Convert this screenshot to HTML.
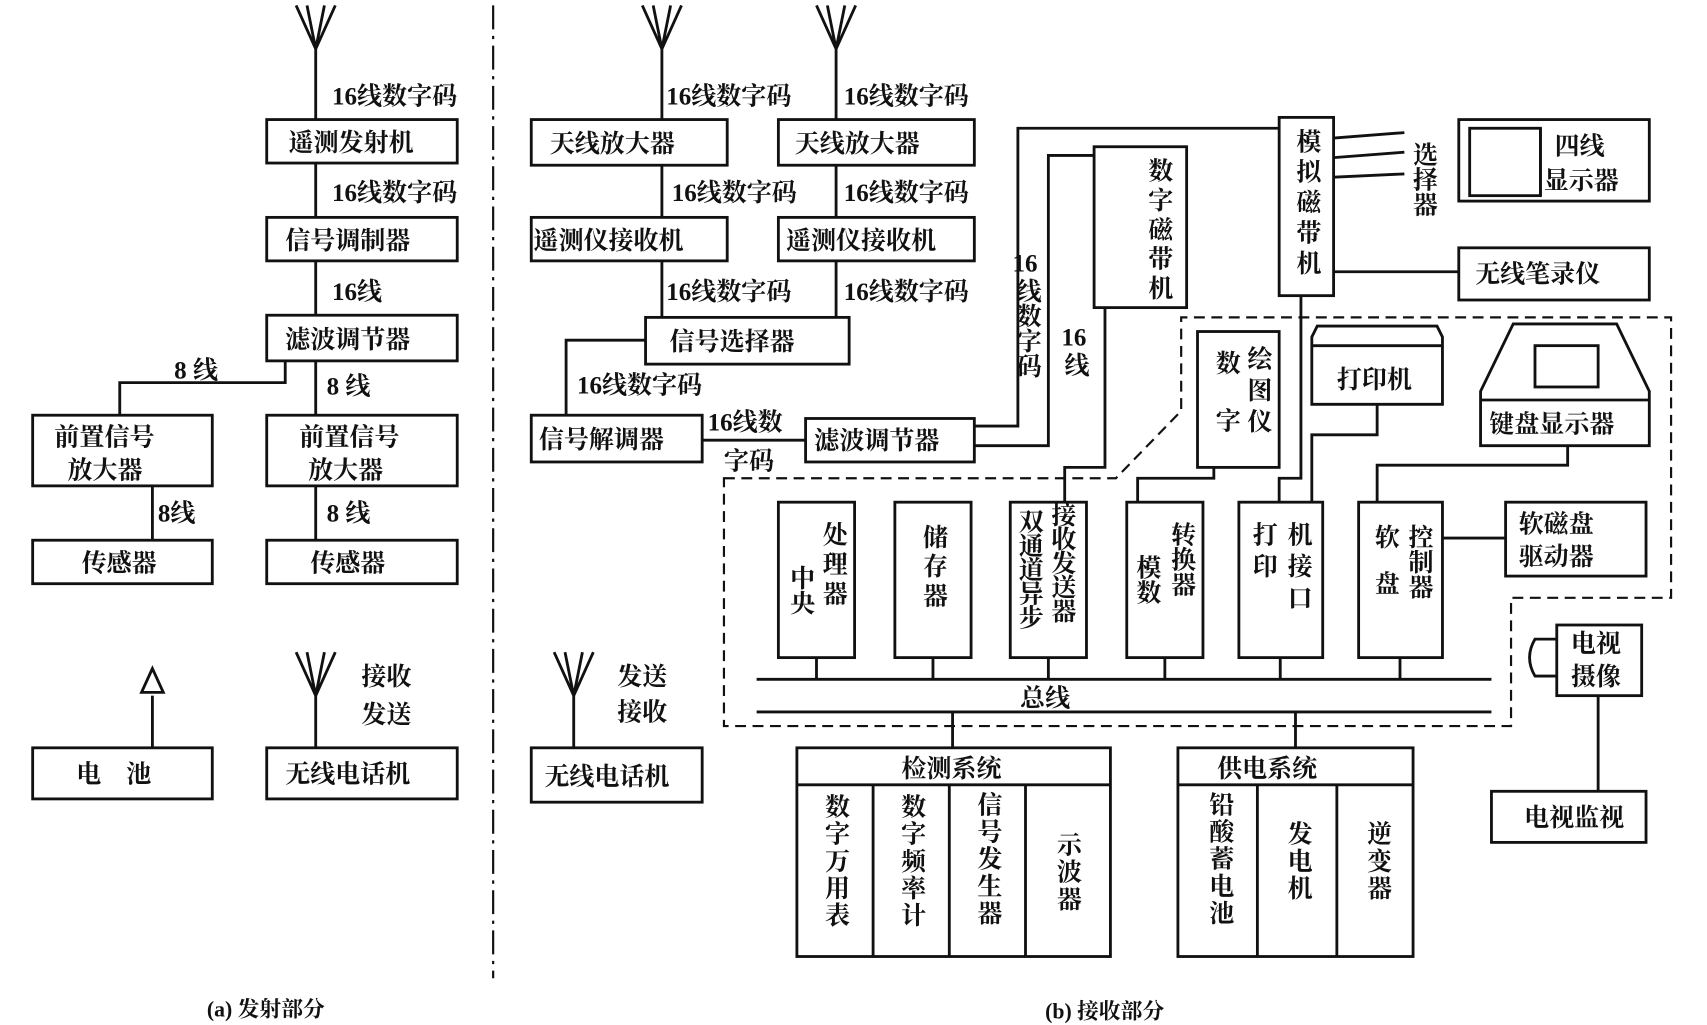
<!DOCTYPE html>
<html><head><meta charset="utf-8"><style>
html,body{margin:0;padding:0;background:#fff;}
svg{display:block;}
text{font-family:"Liberation Serif","Noto Serif CJK SC","Noto Sans CJK SC",serif;font-weight:bold;font-size:23px;fill:#111;}
.v{writing-mode:vertical-rl;}
</style></head><body>
<svg width="1707" height="1025" viewBox="0 0 1568 943" preserveAspectRatio="none" xmlns="http://www.w3.org/2000/svg">
<g stroke="#111" stroke-width="2.6" fill="none">
<path d="M272 5 L290 45 L308 5 M282 5 L290 45 L298 5 M290 45 V110"/>
<path d="M590 5 L608 45 L626 5 M600 5 L608 45 L616 5 M608 45 V110"/>
<path d="M750 5 L768 45 L786 5 M760 5 L768 45 L776 5 M768 45 V110"/>
<path d="M272 600 L290 640 L308 600 M282 600 L290 640 L298 600 M290 640 V688"/>
<path d="M509 600 L527 640 L545 600 M519 600 L527 640 L535 600 M527 640 V688"/>
<rect x="245" y="110" width="175" height="40"/>
<path d="M290 150 V200"/>
<rect x="245" y="200" width="175" height="40"/>
<path d="M290 240 V290"/>
<rect x="245" y="290" width="175" height="42"/>
<path d="M262 332 V352 H110 V382 M290 332 V382"/>
<rect x="30" y="382" width="165" height="65"/>
<rect x="245" y="382" width="175" height="65"/>
<path d="M140 447 V497 M290 447 V497"/>
<rect x="30" y="497" width="165" height="40"/>
<rect x="245" y="497" width="175" height="40"/>
<path d="M140 640 V688"/>
<path d="M140 615 L130 637 L150 637 Z" fill="#fff"/>
<rect x="30" y="688" width="165" height="47"/>
<rect x="245" y="688" width="175" height="47"/>
<path d="M453 5 V900" stroke-dasharray="22 6 3 6" stroke-width="2"/>
<rect x="488" y="110" width="180" height="42"/>
<rect x="715" y="110" width="180" height="42"/>
<path d="M608 152 V200 M768 152 V200"/>
<rect x="488" y="200" width="180" height="40"/>
<rect x="715" y="200" width="180" height="40"/>
<path d="M608 240 V292 M768 240 V292"/>
<rect x="593" y="292" width="187" height="43"/>
<path d="M593 313 H520 V382"/>
<rect x="488" y="382" width="157" height="43"/>
<path d="M645 405 H740"/>
<rect x="740" y="385" width="155" height="40"/>
<path d="M895 392 H935 V118 H1175 M895 410 H963 V143 H1005"/>
<rect x="1005" y="135" width="85" height="148"/>
<path d="M1015 283 V430 H978 V462"/>
<rect x="1175" y="108" width="50" height="164"/>
<path d="M1225 127 L1290 122 M1225 145 L1290 140 M1225 163 L1290 160 M1225 250 H1340"/>
<rect x="1340" y="110" width="175" height="75"/>
<rect x="1350" y="118" width="65" height="62"/>
<path d="M1415 118 V180"/>
<rect x="1340" y="228" width="175" height="48"/>
<path d="M1195 272 V440 H1175 V462"/>
<path d="M665 440 H1025 L1085 378 V292 H1535 V550 H1388 V668 H665 Z" stroke-dasharray="10 6" stroke-width="2"/>
<rect x="1100" y="305" width="75" height="125"/>
<path d="M1115 430 V440 H1045 V462"/>
<path d="M1210 300 H1320 L1325 310 V372 H1205 V310 Z M1205 318 H1325"/>
<path d="M1265 372 V400 H1205 V462"/>
<path d="M1390 298 H1485 L1515 360 V410 H1360 V360 Z M1360 368 H1515"/>
<rect x="1410" y="318" width="58" height="38"/>
<path d="M1440 410 V428 H1265 V462"/>
<rect x="1383" y="462" width="129" height="68"/>
<path d="M1325 495 H1383"/>
<rect x="715" y="462" width="70" height="143"/>
<rect x="822" y="462" width="70" height="143"/>
<rect x="928" y="462" width="70" height="143"/>
<rect x="1035" y="462" width="70" height="143"/>
<rect x="1138" y="462" width="77" height="143"/>
<rect x="1248" y="462" width="77" height="143"/>
<path d="M750 605 V625 M857 605 V625 M963 605 V625 M1070 605 V625 M1176 605 V625 M1286 605 V625"/>
<path d="M695 625 H1370 M695 655 H1370"/>
<path d="M875 655 V688 M1190 655 V688"/>
<rect x="732" y="688" width="288" height="192"/>
<path d="M732 722 H1020 M802 722 V880 M872 722 V880 M942 722 V880"/>
<rect x="1082" y="688" width="216" height="192"/>
<path d="M1082 722 H1298 M1155 722 V880 M1228 722 V880"/>
<rect x="1430" y="575" width="78" height="65"/>
<path d="M1430 588 H1410 Q1400 605 1410 622 H1430"/>
<path d="M1468 640 V728"/>
<rect x="1370" y="728" width="142" height="47"/>
<rect x="488" y="688" width="157" height="50"/>
</g>
<text x="305" y="96">16线数字码</text>
<text x="265" y="139">遥测发射机</text>
<text x="305" y="185">16线数字码</text>
<text x="262" y="229">信号调制器</text>
<text x="305" y="276">16线</text>
<text x="262" y="320">滤波调节器</text>
<text x="160" y="348">8 线</text>
<text x="300" y="363">8 线</text>
<text x="50" y="410">前置信号</text>
<text x="62" y="440">放大器</text>
<text x="275" y="410">前置信号</text>
<text x="283" y="440">放大器</text>
<text x="145" y="480">8线</text>
<text x="300" y="480">8 线</text>
<text x="75" y="526">传感器</text>
<text x="285" y="526">传感器</text>
<text x="70" y="720">电　池</text>
<text x="262" y="720">无线电话机</text>
<text x="332" y="630">接收</text>
<text x="332" y="665">发送</text>
<text x="190" y="935" style="font-size:20px">(a) 发射部分</text>
<text x="612" y="96">16线数字码</text>
<text x="775" y="96">16线数字码</text>
<text x="505" y="140">天线放大器</text>
<text x="730" y="140">天线放大器</text>
<text x="617" y="185">16线数字码</text>
<text x="775" y="185">16线数字码</text>
<text x="490" y="229">遥测仪接收机</text>
<text x="722" y="229">遥测仪接收机</text>
<text x="612" y="276">16线数字码</text>
<text x="775" y="276">16线数字码</text>
<text x="615" y="322">信号选择器</text>
<text x="530" y="362">16线数字码</text>
<text x="495" y="412">信号解调器</text>
<text x="650" y="396">16线数</text>
<text x="665" y="432">字码</text>
<text x="748" y="413">滤波调节器</text>
<text x="930" y="250">16</text>
<text x="943" y="256" class="v">线数字码</text>
<text x="975" y="318">16</text>
<text x="987" y="324" class="v">线</text>
<text x="1064" y="145" class="v" style="letter-spacing:4px">数字磁带机</text>
<text x="1200" y="118" class="v" style="letter-spacing:5px">模拟磁带机</text>
<text x="1307" y="130" class="v">选择器</text>
<text x="1428" y="142">四线</text>
<text x="1418" y="174">显示器</text>
<text x="1355" y="260">无线笔录仪</text>
<text x="1126" y="322" class="v" style="letter-spacing:30px">数字</text>
<text x="1155" y="318" class="v" style="letter-spacing:6px">绘图仪</text>
<text x="1228" y="357">打印机</text>
<text x="1368" y="398">键盘显示器</text>
<text x="1395" y="490">软磁盘</text>
<text x="1395" y="520">驱动器</text>
<text x="735" y="520" class="v">中央</text>
<text x="765" y="480" class="v" style="letter-spacing:4px">处理器</text>
<text x="857" y="482" class="v" style="letter-spacing:4px">储存器</text>
<text x="945" y="468" class="v" style="letter-spacing:-1px">双通道异步</text>
<text x="975" y="462" class="v" style="letter-spacing:-1px">接收发送器</text>
<text x="1053" y="510" class="v">模数</text>
<text x="1085" y="480" class="v">转换器</text>
<text x="1160" y="480" class="v" style="letter-spacing:6px">打印</text>
<text x="1192" y="480" class="v" style="letter-spacing:6px">机接口</text>
<text x="1272" y="482" class="v" style="letter-spacing:20px">软盘</text>
<text x="1303" y="482" class="v">控制器</text>
<text x="937" y="650">总线</text>
<text x="828" y="715">检测系统</text>
<text x="1118" y="715">供电系统</text>
<text x="767" y="730" class="v" style="letter-spacing:2px">数字万用表</text>
<text x="837" y="730" class="v" style="letter-spacing:2px">数字频率计</text>
<text x="907" y="728" class="v" style="letter-spacing:2px">信号发生器</text>
<text x="980" y="765" class="v" style="letter-spacing:2px">示波器</text>
<text x="1120" y="728" class="v" style="letter-spacing:2px">铅酸蓄电池</text>
<text x="1192" y="755" class="v" style="letter-spacing:2px">发电机</text>
<text x="1265" y="755" class="v" style="letter-spacing:2px">逆变器</text>
<text x="1443" y="600">电视</text>
<text x="1443" y="630">摄像</text>
<text x="1400" y="760">电视监视</text>
<text x="567" y="630">发送</text>
<text x="567" y="663">接收</text>
<text x="500" y="722">无线电话机</text>
<text x="960" y="937" style="font-size:20px">(b) 接收部分</text>
</svg>
</body></html>
